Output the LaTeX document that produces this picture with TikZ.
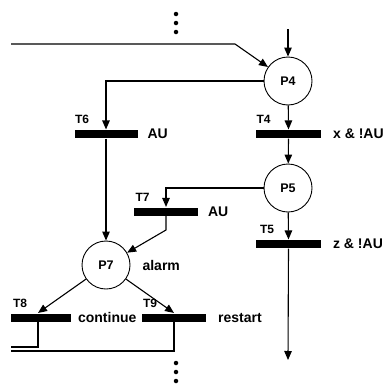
\documentclass[tikz,border=0pt]{standalone}
\usepackage{fontspec}
\setmainfont{Liberation Sans}
\usetikzlibrary{arrows.meta,calc}
\begin{document}
\begin{tikzpicture}[x=1pt,y=-1pt,
  line width=1.1pt,
  arr/.style={-{Triangle[length=9pt,width=7.5pt]}},
  place/.style={circle,draw,line width=0.9pt,minimum size=48pt,inner sep=0pt,font=\fontsize{12.5}{12.5}\selectfont\bfseries},
  bar/.style={rectangle,fill=black,minimum height=8pt,inner sep=0pt},
  tlab/.style={anchor=south west,inner sep=0pt,font=\fontsize{12}{12}\selectfont\bfseries},
  cond/.style={anchor=west,inner sep=0pt,font=\fontsize{14}{14}\selectfont\bfseries},
  dot/.style={circle,fill=black,inner sep=0pt,minimum size=4.5pt}]
\useasboundingbox (0,0) rectangle (390,383);
% places
\node[place] (P4) at (288,81) {P4};
\node[place] (P5) at (288,188) {P5};
\node[place] (P7) at (106,265) {P7};
% transitions
\node[bar,minimum width=63pt] (T6) at (106,134) {};
\node[bar,minimum width=65pt] (T4) at (288.5,134) {};
\node[bar,minimum width=64pt] (T7) at (166,211.5) {};
\node[bar,minimum width=65pt] (T5) at (288.5,244) {};
\node[bar,minimum width=60pt] (T8) at (41,317.5) {};
\node[bar,minimum width=64pt] (T9) at (174,317.5) {};
% transition names
\node[tlab] (lT6) at ($(T6.north west)+(0.5,-5)$) {T6};
\node[tlab] (lT4) at ($(T4.north west)+(0.5,-5)$) {T4};
\node[tlab] (lT7) at ($(T7.north west)+(1.5,-5)$) {T7};
\node[tlab] (lT5) at ($(T5.north west)+(4,-5)$) {T5};
\node[tlab] (lT8) at ($(T8.north west)+(2,-5)$) {T8};
\node[tlab] (lT9) at ($(T9.north west)+(1,-5)$) {T9};
% conditions
\node[cond] (cT6) at ($(T6.east)+(9,0)$) {AU};
\node[cond] (cT4) at ($(T4.east)+(11,0)$) {x \& !AU};
\node[cond] (cT7) at ($(T7.east)+(9,0)$) {AU};
\node[cond] (cT5) at ($(T5.east)+(11,0)$) {z \& !AU};
\node[cond] (cT8) at ($(T8.east)+(6,0)$) {continue};
\node[cond] (cT9) at ($(T9.east)+(11,0)$) {restart};
\node[cond] (alarm) at (142,265) {alarm};
% auxiliary coordinates
\coordinate (in4) at (288,29);
\coordinate (inL) at (11,44);
\coordinate (bendL) at (235,44);
\coordinate (bend7) at (166,230);
\coordinate (out5) at (288,360);
\coordinate (t8c) at (38,317.5);
\coordinate (ret8) at (11,347);
\coordinate (ret9) at (11,351);
% dots
\node[dot] (d1) at (176,14) {};
\node[dot] (d2) at (176,23) {};
\node[dot] (d3) at (176,32) {};
\node[dot] (d4) at (176,363) {};
\node[dot] (d5) at (176,372) {};
\node[dot] (d6) at (176,381) {};
% arcs
\draw[arr] (in4) -- (P4);
\draw[arr] (inL) -- (bendL) -- (P4);
\draw[arr] (P4.west) -| (T6.north);
\draw[arr] (P4) -- (T4.north);
\draw[arr] (T4.south) -- (P5);
\draw[arr] (P5) -- (T5.north);
\draw[arr] (T5.south) -- (out5);
\draw[arr] (P5.west) -| (T7.north);
\draw[arr] (T7.south) -- (bend7) -- (P7);
\draw[arr] (T6.south) -- (P7);
\draw[arr] (P7) -- (t8c |- T8.north);
\draw[arr] (P7) -- (T9.north);
\draw (t8c |- T8.south) |- (ret8);
\draw (T9.south) |- (ret9);
\end{tikzpicture}
\end{document}
